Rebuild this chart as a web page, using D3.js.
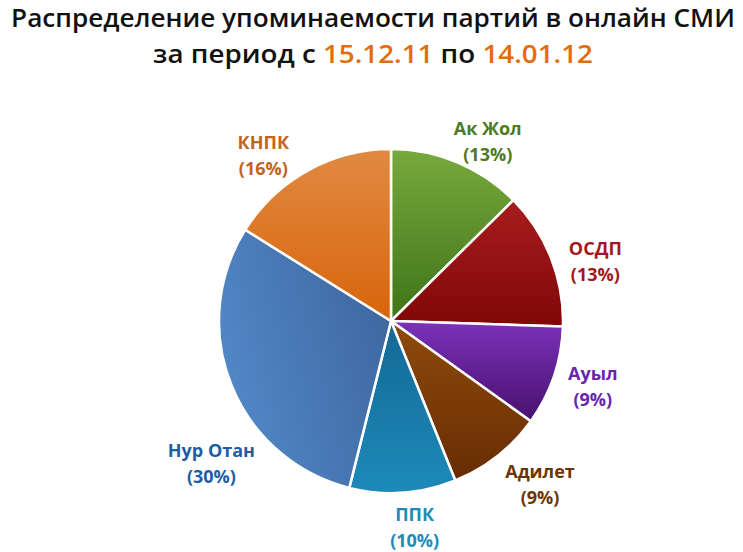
<!DOCTYPE html>
<html>
<head>
<meta charset="utf-8">
<script src="https://cdn.jsdelivr.net/npm/d3@7"></script>
<style>
  body { margin: 0; background: #fff; }
  text { font-family: "Open Sans", "Noto Sans", sans-serif; }
</style>
</head>
<body>
<div id="chart"></div>
<script>
// Data
const parties = ["Ак Жол", "ОСДП", "Ауыл", "Адилет", "ППК", "Нур Отан", "КНПК"];
const shares = [12.6, 12.9, 9.4, 9.0, 10.0, 30.0, 16.1];
const titleLine1 = "Распределение упоминаемости партий в онлайн СМИ";
const periodFrom = "15.12.11";
const periodTo = "14.01.12";

// Styles
const lightColors = ["#78a93d", "#a61d1f", "#7b32ba", "#8f4b0d", "#136893", "#5389c9", "#e18a42"];
const darkColors = ["#3e7418", "#810707", "#48106e", "#672c02", "#1d8aba", "#3e679f", "#d8640b"];
const labelColors = ["#4f7a22", "#a3171b", "#6a25ad", "#6b3507", "#1f8ab8", "#1c5ea3", "#c0641e"];
// gradient direction per slice [x1, y1, x2, y2]
const gradDirs = [
  [0, 0, 0, 1], [0, 0, 0, 1], [0, 0, 0, 1], [0, 0, 0, 1],
  [0, 0, 0, 1], [0, 0.7, 1, 0.3], [0, 0, 0, 1]
];
// label nudges relative to label arc centroid
const labelShift = [[15, 17], [7, 18], [1, -2], [18, -3], [9, -4], [17, 64], [-25, 20]];

const width = 743;
const height = 552;
const cx = 391;
const cy = 321;
const radius = 172;

const svg = d3.select("#chart")
  .append("svg")
  .attr("width", width)
  .attr("height", height);

// Title
const t1 = svg.append("text")
  .attr("x", 373)
  .attr("y", 27)
  .attr("text-anchor", "middle")
  .attr("font-size", 25)
  .attr("font-weight", 600)
  .attr("fill", "#111")
  .text(titleLine1);

const t2 = svg.append("text")
  .attr("x", 373)
  .attr("y", 63)
  .attr("text-anchor", "middle")
  .attr("font-size", 26)
  .attr("font-weight", 600)
  .attr("fill", "#111");
t2.append("tspan").text("за период с ");
t2.append("tspan").attr("fill", "#e46c0a").text(periodFrom);
t2.append("tspan").text(" по ");
t2.append("tspan").attr("fill", "#e46c0a").text(periodTo);

// squeeze title lines horizontally to match target widths
function fitWidth(sel, target, x) {
  const w = sel.node().getComputedTextLength();
  const k = target / w;
  sel.attr("transform", `translate(${x},0) scale(${k},1) translate(${-x},0)`);
}
fitWidth(t1, 724, 373);
fitWidth(t2, 440, 373);

// Gradients
const defs = svg.append("defs");
parties.forEach((p, i) => {
  const g = defs.append("linearGradient")
    .attr("id", "grad" + i)
    .attr("x1", gradDirs[i][0])
    .attr("y1", gradDirs[i][1])
    .attr("x2", gradDirs[i][2])
    .attr("y2", gradDirs[i][3]);
  g.append("stop").attr("offset", "0%").attr("stop-color", lightColors[i]);
  g.append("stop").attr("offset", "100%").attr("stop-color", darkColors[i]);
});

// Pie
const pie = d3.pie().sort(null).value((d) => d.value);
const arcs = pie(parties.map((p, i) => ({ name: p, value: shares[i], i: i })));

const arc = d3.arc().innerRadius(0).outerRadius(radius);
const labelArc = d3.arc().innerRadius(212).outerRadius(212);

const g = svg.append("g").attr("transform", `translate(${cx},${cy})`);

g.selectAll("path.slice")
  .data(arcs)
  .enter()
  .append("path")
  .attr("class", "slice")
  .attr("d", arc)
  .attr("fill", (d) => `url(#grad${d.data.i})`)
  .attr("stroke", "#fff")
  .attr("stroke-width", 2.5)
  .attr("stroke-linejoin", "round");

// Labels
const labels = g.selectAll("text.label")
  .data(arcs)
  .enter()
  .append("text")
  .attr("class", "label")
  .attr("text-anchor", "middle")
  .attr("font-size", 18)
  .attr("font-weight", 700)
  .attr("fill", (d) => labelColors[d.data.i])
  .attr("transform", (d) => {
    const [x, y] = labelArc.centroid(d);
    const s = labelShift[d.data.i];
    return `translate(${x + s[0]},${y + s[1]})`;
  });

labels.append("tspan")
  .attr("x", 0)
  .attr("y", -7)
  .text((d) => d.data.name);

labels.append("tspan")
  .attr("x", 0)
  .attr("y", 19)
  .text((d) => `(${Math.round(d.data.value)}%)`);
</script>
</body>
</html>
